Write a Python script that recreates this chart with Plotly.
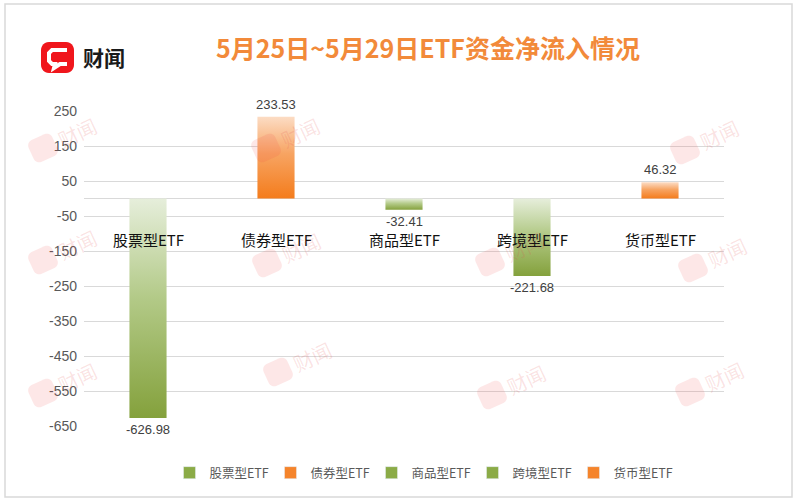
import math
import plotly.graph_objects as go

# ---------------- data ----------------
categories = ["股票型ETF", "债券型ETF", "商品型ETF", "跨境型ETF", "货币型ETF"]
values = [-626.98, 233.53, -32.41, -221.68, 46.32]
kinds = ["green", "orange", "green", "green", "orange"]
y_ticks = [250, 150, 50, -50, -150, -250, -350, -450, -550, -650]
title_text = "5月25日~5月29日ETF资金净流入情况"
brand_text = "财闻"

# ---------------- styles ----------------
W, H = 797, 503
PL, PR, PT, PB = 84, 724, 111, 426   # plot area in pixels
BAR_HALF = 0.145
grad = {
    "green": [[0, "#84a13c"], [0.55, "#b3ca88"], [1, "#e6eedb"]],
    "orange": [[0, "#f47c1c"], [0.55, "#f7a462"], [1, "#fcdcc4"]],
}
solid = {"green": "#8bab47", "orange": "#f5842b"}
CJK = "Noto Sans CJK SC"


def px(x):
    return (x - PL) / (PR - PL)


def py(y):
    return (PB - y) / (PB - PT)


def rrect_path(cx, cy, w, h, r, ang_deg=0.0, n=6):
    """Rounded rect centred at pixel (cx,cy), rotated, returned in paper coords."""
    pts = []
    corners = [(w / 2 - r, -h / 2 + r, -90), (w / 2 - r, h / 2 - r, 0),
               (-w / 2 + r, h / 2 - r, 90), (-w / 2 + r, -h / 2 + r, 180)]
    for (ox, oy, a0) in corners:
        for k in range(n + 1):
            a = math.radians(a0 + 90 * k / n)
            pts.append((ox + r * math.cos(a), oy + r * math.sin(a)))
    t = math.radians(ang_deg)
    out = []
    for (x, y) in pts:
        xr = x * math.cos(t) - y * math.sin(t)
        yr = x * math.sin(t) + y * math.cos(t)
        out.append((px(cx + xr), py(cy + yr)))
    return "M " + " L ".join(f"{a:.5f},{b:.5f}" for a, b in out) + " Z"


fig = go.Figure()

# gradient bars built from the values
for i, (cat, v, k) in enumerate(zip(categories, values, kinds)):
    fig.add_trace(go.Scatter(
        x=[i - BAR_HALF, i - BAR_HALF, i + BAR_HALF, i + BAR_HALF, i - BAR_HALF],
        y=[0, v, v, 0, 0],
        fill="toself", mode="lines", line=dict(width=0),
        fillgradient=dict(type="vertical", colorscale=grad[k]),
        showlegend=False, hoverinfo="skip",
    ))

# legend entries
for cat, k in zip(categories, kinds):
    fig.add_trace(go.Bar(x=[None], y=[None], name=cat, marker_color=solid[k]))

annotations = []
# data labels
for i, v in enumerate(values):
    annotations.append(dict(
        x=i, y=v, xref="x", yref="y", text=f"{v:.2f}", showarrow=False,
        xanchor="center",
        yanchor="bottom" if v > 0 else "top", yshift=3 if v > 0 else -2,
        font=dict(family="Liberation Sans", size=13, color="#404040"),
    ))
# category labels
for i, cat in enumerate(categories):
    annotations.append(dict(
        x=i, y=-118, xref="x", yref="y", text=cat, showarrow=False,
        xanchor="center", yanchor="middle",
        font=dict(family=CJK, size=15, color="#111111"),
    ))
# title
annotations.append(dict(
    x=px(428), y=py(47), xref="paper", yref="paper", text=f"<b>{title_text}</b>",
    xanchor="center", yanchor="middle",
    showarrow=False, font=dict(family=CJK, size=25, color="#F28A3A"),
))
# brand text
annotations.append(dict(
    x=px(81), y=py(57), xref="paper", yref="paper", xanchor="left", yanchor="middle",
    text=f"<b>{brand_text}</b>", showarrow=False,
    font=dict(family=CJK, size=21, color="#1a1a1a"),
))

shapes = []
# outer border
shapes.append(dict(type="rect", xref="paper", yref="paper",
                   x0=px(5), x1=px(792), y0=py(4), y1=py(497),
                   line=dict(color="#d9d9d9", width=1.5), layer="below"))
# brand logo
shapes.append(dict(type="path", xref="paper", yref="paper",
                   path=rrect_path(57.5, 57.5, 33, 31, 8),
                   fillcolor="#f0161c", line=dict(width=0)))
bubble = [(67, 50), (52, 50), (49, 53), (49, 61), (52, 64), (55, 64), (54, 68), (60, 64), (67, 64)]
shapes.append(dict(type="path", xref="paper", yref="paper",
                   path="M " + " L ".join(f"{px(a):.5f},{py(b):.5f}" for a, b in bubble),
                   line=dict(color="white", width=4), fillcolor="rgba(0,0,0,0)"))

# watermarks
wm_logos = [(43, 148), (43, 260), (43, 393),
            (266, 148), (267, 263), (278, 372),
            (490, 262), (492, 395),
            (685, 150), (693, 268), (690, 392)]
for (lx, ly) in wm_logos:
    shapes.append(dict(type="path", xref="paper", yref="paper",
                       path=rrect_path(lx, ly, 26, 24, 6, -25),
                       fillcolor="rgba(238,70,70,0.13)", line=dict(width=0), layer="above"))
    annotations.append(dict(
        x=px(lx + 34), y=py(ly - 16), xref="paper", yref="paper", text=brand_text,
        xanchor="center", yanchor="middle",
        showarrow=False, textangle=-25,
        font=dict(family=CJK, size=20, color="rgba(225,80,80,0.16)"),
    ))

fig.update_layout(
    width=W, height=H,
    margin=dict(l=PL, r=W - PR, t=PT, b=H - PB),
    paper_bgcolor="white", plot_bgcolor="white",
    showlegend=True,
    legend=dict(orientation="h", x=px(422), y=py(473), xanchor="center", yanchor="middle",
                font=dict(family=CJK, size=12.5, color="#595959"),
                itemwidth=30, entrywidth=56, entrywidthmode="pixels",
                traceorder="normal"),
    xaxis=dict(range=[-0.5, 4.5], showticklabels=False, showgrid=False,
               zeroline=False, fixedrange=True),
    yaxis=dict(range=[-650, 250], tickvals=y_ticks, ticktext=[str(t) for t in y_ticks],
               showgrid=True, gridcolor="#d9d9d9", gridwidth=1,
               zeroline=True, zerolinecolor="#d9d9d9", zerolinewidth=1,
               tickfont=dict(family="Liberation Sans", size=14, color="#595959"),
               ticklabelstandoff=6),
    annotations=annotations, shapes=shapes,
)

fig.write_html("out.html", config={"displayModeBar": False},
               post_script="document.body.style.margin='0';")
